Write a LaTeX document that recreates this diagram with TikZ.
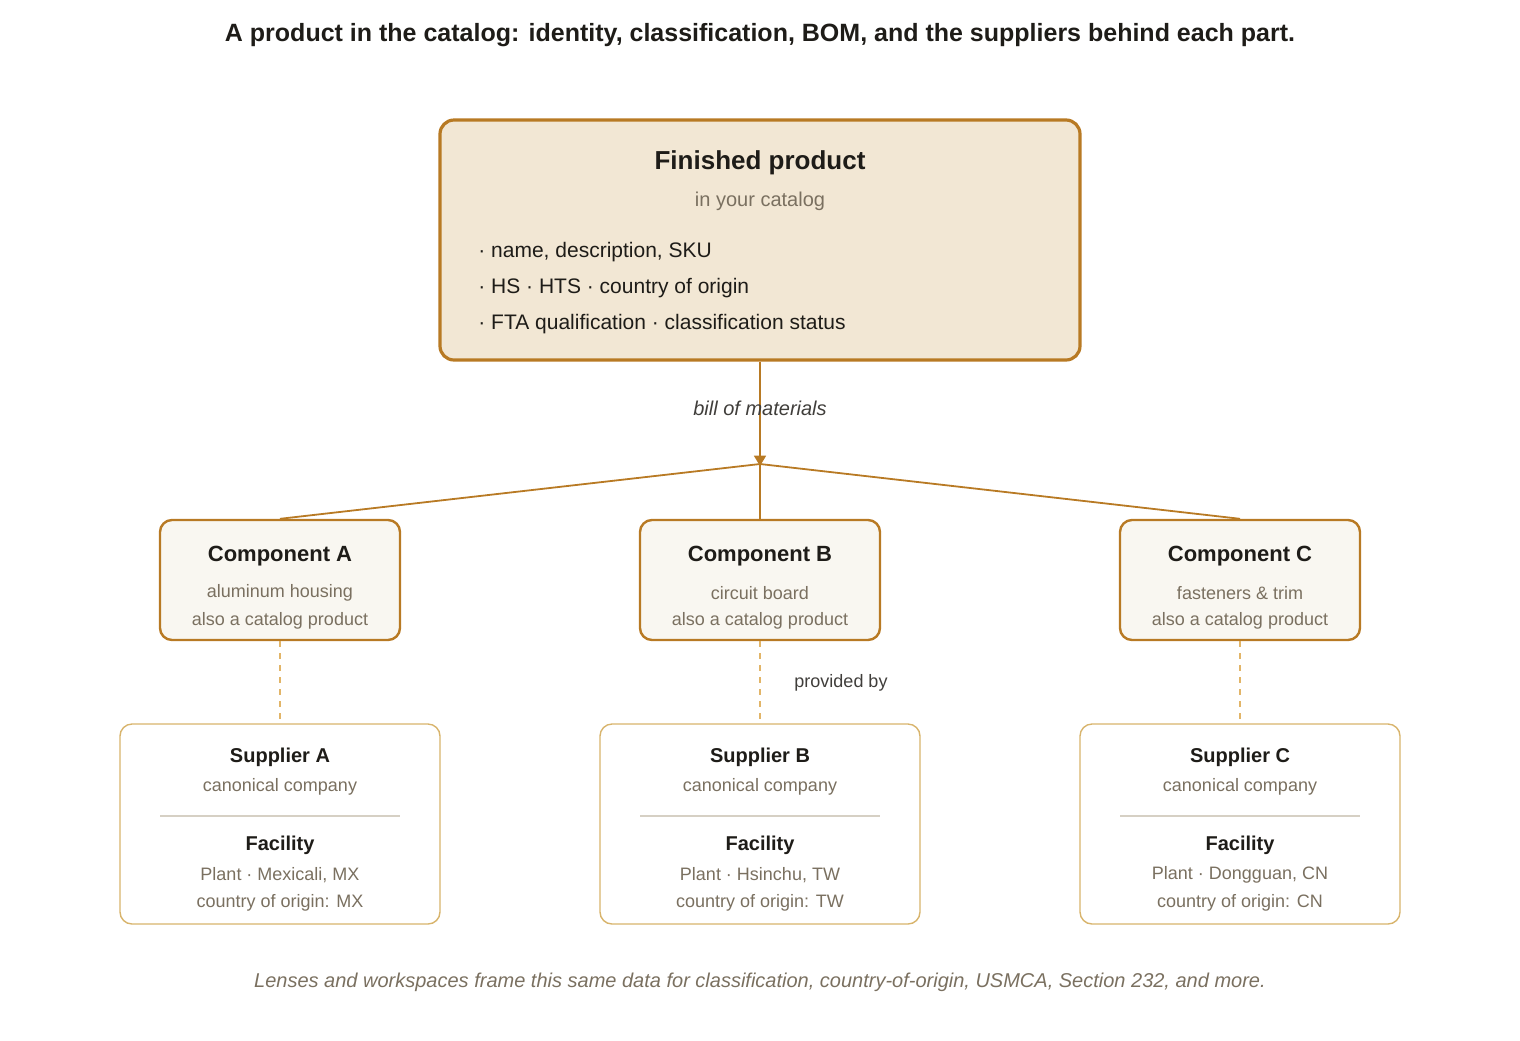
\documentclass[tikz,border=0pt]{standalone}
\usepackage{fontspec}
\setmainfont{Liberation Sans}
\usetikzlibrary{arrows.meta, positioning}
\definecolor{gold}{HTML}{B87A24}
\definecolor{goldlight}{HTML}{D8B46C}
\definecolor{dashgold}{HTML}{E2B568}
\definecolor{topfill}{HTML}{F2E7D4}
\definecolor{compfill}{HTML}{F9F7F1}
\definecolor{ink}{HTML}{1E1C18}
\definecolor{muted}{HTML}{7A7060}
\definecolor{rulegray}{HTML}{D6D0C4}
\begin{document}
\begin{tikzpicture}[x=0.5pt, y=-0.5pt, >=Triangle]
	\tikzstyle{topbox} = [draw=gold, line width=1.6pt, fill=topfill, rounded corners=7pt, minimum width=320pt, minimum height=120pt]
	\tikzstyle{comp} = [draw=gold, line width=1.2pt, fill=compfill, rounded corners=6pt, minimum width=120pt, minimum height=60pt]
	\tikzstyle{supp} = [draw=goldlight, line width=0.7pt, fill=white, rounded corners=6pt, minimum width=160pt, minimum height=100pt]
	\tikzstyle{txt} = [inner sep=0pt, font=\fontsize{9.5}{11}\selectfont, text=ink]
	\tikzstyle{sub} = [inner sep=0pt, font=\fontsize{9}{11}\selectfont, text=muted]
	\tikzstyle{ttl} = [inner sep=0pt, font=\bfseries\fontsize{11}{13}\selectfont, text=ink]
	\tikzstyle{bom} = [draw=gold, line width=0.9pt]
	\tikzstyle{prov} = [draw=dashgold, line width=0.9pt, dash pattern=on 3pt off 3pt]

	\useasboundingbox (0,0) rectangle (1520,1040);

	\node[inner sep=0pt, font=\bfseries\fontsize{12.5}{15}\selectfont, text=ink] (title) at (760,35) {A product in the catalog: identity, classification, BOM, and the suppliers behind each part.};

	% finished product
	\node[topbox] (fp) at (760,240) {};
	\node[ttl, font=\bfseries\fontsize{13}{15}\selectfont] (fpt) at (760,163) {Finished product};
	\node[sub, font=\fontsize{10}{12}\selectfont] (fps) at (760,201) {in your catalog};
	\node[txt, anchor=west, font=\fontsize{10.5}{12}\selectfont] (l1) at (478,252) {· name, description, SKU};
	\node[txt, anchor=west, font=\fontsize{10.5}{12}\selectfont] (l2) at (478,288) {· HS · HTS · country of origin};
	\node[txt, anchor=west, font=\fontsize{10.5}{12}\selectfont] (l3) at (478,324) {· FTA qualification · classification status};

	% bill of materials
	\coordinate (hub) at (760,464);
	\draw[bom, ->, shorten >=-1pt] (fp.south) -- (hub);
	\node[txt, font=\itshape\fontsize{10}{12}\selectfont, text=ink!85] (bl) at (760,408) {bill of materials};

	% components and suppliers
	\foreach \n/\x/\what/\place/\cc in {A/280/aluminum housing/Mexicali/MX, B/760/circuit board/Hsinchu/TW, C/1240/fasteners \& trim/Dongguan/CN} {
		\node[comp] (c\n) at (\x,580) {};
		\node[ttl] at (\x,556) {Component \n};
		\node[sub] at (\x,593) {\what};
		\node[sub] at (\x,621) {also a catalog product};
		\draw[bom] (hub) -- (c\n.north);
		\node[supp] (s\n) at (\x,824) {};
		\node[ttl, font=\bfseries\fontsize{10}{12}\selectfont] at (\x,757) {Supplier \n};
		\node[sub] at (\x,787) {canonical company};
		\draw[rulegray, line width=0.6pt] (\x-120,816) -- (\x+120,816);
		\node[ttl, font=\bfseries\fontsize{10}{12}\selectfont] at (\x,845) {Facility};
		\node[sub] at (\x,875) {Plant · \place, \cc};
		\node[sub] at (\x,903) {country of origin: \cc};
		\draw[prov] (c\n.south) -- (s\n.north);
	}
	\node[txt, font=\fontsize{9}{11}\selectfont, text=ink!85] (pb) at (841,683) {provided by};

	\node[sub, font=\itshape\fontsize{10}{12}\selectfont] (foot) at (760,982) {Lenses and workspaces frame this same data for classification, country-of-origin, USMCA, Section 232, and more.};
\end{tikzpicture}
\end{document}
